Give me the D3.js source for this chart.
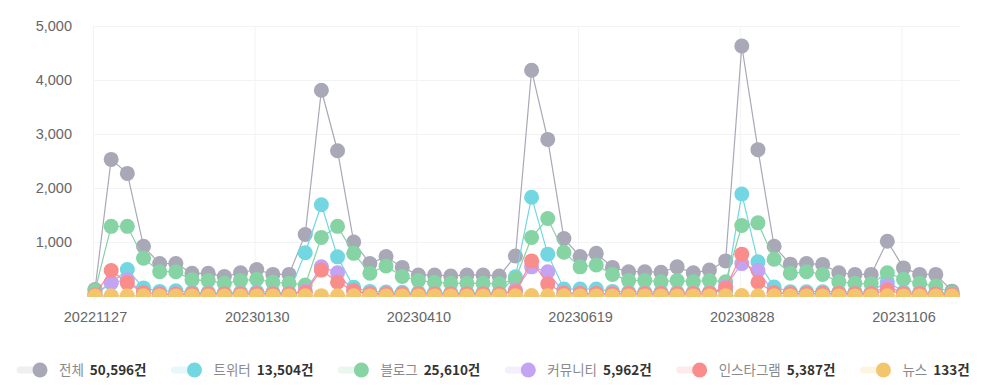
<!DOCTYPE html>
<html>
<head>
<meta charset="utf-8">
<script src="https://cdn.jsdelivr.net/npm/d3@7"></script>
<style>
  body { margin: 0; background: #fff; }
  svg { display: block; }
</style>
</head>
<body>
<div id="chart"></div>
<script>
// weekly dates (first point is a single day)
var dates = ["20221127","20221128","20221205","20221212","20221219","20221226","20230102","20230109","20230116","20230123",
  "20230130","20230206","20230213","20230220","20230227","20230306","20230313","20230320","20230327","20230403",
  "20230410","20230417","20230424","20230501","20230508","20230515","20230522","20230529","20230605","20230612",
  "20230619","20230626","20230703","20230710","20230717","20230724","20230731","20230807","20230814","20230821",
  "20230828","20230904","20230911","20230918","20230925","20231002","20231009","20231016","20231023","20231030",
  "20231106","20231113","20231120","20231127"]
var tickDates = ["20221127","20230130","20230410","20230619","20230828","20231106"]
var yTicks = [0, 1000, 2000, 3000, 4000, 5000]

var total = [120, 2530, 2270, 920, 600, 600, 420, 420, 360, 430,
  490, 400, 400, 1140, 3810, 2690, 1000, 600, 730, 530,
  390, 390, 370, 390, 390, 370, 740, 4180, 2900, 1065,
  730, 790, 530, 450, 450, 440, 540, 430, 480, 650,
  4630, 2710, 920, 590, 600, 585, 430, 400, 400, 1015,
  520, 400, 400, 90]
var twitter = [40, 240, 490, 150, 85, 95, 70, 65, 60, 70,
  80, 70, 65, 800, 1690, 725, 160, 85, 75, 70,
  65, 65, 60, 65, 65, 65, 355, 1830, 775, 130,
  130, 130, 85, 75, 75, 75, 70, 75, 75, 90,
  1890, 635, 165, 80, 80, 80, 75, 75, 75, 270,
  75, 70, 70, 50]
var blog = [100, 1290, 1290, 700, 450, 450, 300, 285, 235, 285,
  310, 255, 235, 205, 1085, 1290, 790, 420, 555, 360,
  285, 255, 235, 235, 235, 225, 310, 1085, 1435, 810,
  540, 575, 400, 285, 285, 265, 285, 265, 285, 265,
  1305, 1355, 680, 420, 450, 400, 265, 235, 225, 430,
  310, 235, 185, 50]
var community = [20, 250, 300, 60, 40, 40, 40, 40, 35, 40,
  45, 40, 40, 90, 540, 430, 80, 40, 40, 40,
  35, 35, 35, 35, 35, 35, 110, 540, 450, 60,
  40, 40, 40, 40, 40, 40, 40, 40, 45, 180,
  600, 470, 60, 40, 40, 40, 40, 40, 40, 190,
  40, 40, 35, 30]
var instagram = [20, 470, 240, 60, 35, 35, 35, 35, 35, 35,
  40, 35, 35, 70, 480, 255, 100, 40, 40, 35,
  35, 35, 35, 35, 35, 35, 80, 650, 225, 50,
  45, 45, 40, 40, 40, 40, 40, 40, 45, 150,
  775, 255, 60, 45, 45, 45, 45, 40, 40, 110,
  40, 40, 35, 30]
var news = [0, 5, 4, 3, 2, 2, 2, 2, 2, 2,
  2, 2, 2, 3, 6, 5, 3, 2, 2, 2,
  2, 2, 2, 2, 2, 2, 3, 7, 5, 3,
  2, 2, 2, 2, 2, 2, 2, 2, 2, 3,
  8, 5, 3, 2, 2, 2, 2, 2, 2, 4,
  2, 2, 2, 1]

var seriesNames = ["전체", "트위터", "블로그", "커뮤니티", "인스타그램", "뉴스"]
var seriesTotals = ["50,596건", "13,504건", "25,610건", "5,962건", "5,387건", "133건"]
var seriesValues = [total, twitter, blog, community, instagram, news]
var colors = ["#a9a8b6", "#72d7e1", "#86d3a4", "#c3a3f2", "#f98d8b", "#f3c56c"]

var width = 983, height = 389
var plot = {left: 95, right: 952, top: 26, bottom: 296, gridRight: 960}

var svg = d3.select("#chart").append("svg")
  .attr("width", width)
  .attr("height", height)

var x = d3.scalePoint()
  .domain(dates)
  .range([plot.left, plot.right])

var y = d3.scaleLinear()
  .domain([0, 5000])
  .range([plot.bottom, plot.top])

// grid
svg.append("g").selectAll("line")
  .data(yTicks)
  .enter().append("line")
  .attr("x1", plot.left - 2).attr("x2", plot.gridRight)
  .attr("y1", function(d) { return y(d) + 0.5 }).attr("y2", function(d) { return y(d) + 0.5 })
  .attr("stroke", "#f3f3f5")

svg.append("g").selectAll("line")
  .data(tickDates)
  .enter().append("line")
  .attr("x1", function(d) { return x(d) - 1.5 }).attr("x2", function(d) { return x(d) - 1.5 })
  .attr("y1", plot.top).attr("y2", plot.bottom)
  .attr("stroke", "#f3f3f5")

// axes (no label at 0)
var yAxis = d3.axisLeft(y).tickValues(yTicks.slice(1)).tickSize(0).tickPadding(0).tickFormat(d3.format(","))
var gy = svg.append("g")
  .attr("transform", "translate(72,0)")
  .call(yAxis)
gy.select(".domain").remove()
gy.selectAll("text")
  .attr("font-family", "'Liberation Sans', Arial, sans-serif")
  .attr("font-size", 14.5)
  .attr("fill", "#666")

var xAxis = d3.axisBottom(x).tickValues(tickDates).tickSize(0).tickPadding(0)
var gx = svg.append("g")
  .attr("transform", "translate(0,312)")
  .call(xAxis)
gx.select(".domain").remove()
gx.selectAll("text")
  .attr("font-family", "'Liberation Sans', Arial, sans-serif")
  .attr("font-size", 14.5)
  .attr("fill", "#666")

// series
svg.append("clipPath").attr("id", "clip")
  .append("rect").attr("x", 0).attr("y", 0).attr("width", width).attr("height", plot.bottom + 1)

var line = d3.line()
  .x(function(d, i) { return x(dates[i]) })
  .y(function(d) { return y(d) })

var plotG = svg.append("g").attr("clip-path", "url(#clip)")

seriesValues.forEach(function(vals, k) {
  var g = plotG.append("g")
  g.append("path")
    .datum(vals)
    .attr("d", line)
    .attr("fill", "none")
    .attr("stroke", colors[k])
    .attr("stroke-width", 1.2)
  g.selectAll("circle")
    .data(vals)
    .enter().append("circle")
    .attr("cx", function(d, i) { return x(dates[i]) })
    .attr("cy", function(d) { return y(d) })
    .attr("r", 7.5)
    .attr("fill", colors[k])
})

// legend
var legend = svg.append("g").attr("transform", "translate(0,370)")
var cx = 40
seriesNames.forEach(function(name, k) {
  var item = legend.append("g")
  item.append("line")
    .attr("x1", cx - 20).attr("x2", cx)
    .attr("y1", 0).attr("y2", 0)
    .attr("stroke", colors[k])
    .attr("stroke-opacity", 0.18)
    .attr("stroke-width", 7)
    .attr("stroke-linecap", "round")
  item.append("circle")
    .attr("cx", cx).attr("cy", 0).attr("r", 7.5)
    .attr("fill", colors[k])
  var label = item.append("text")
    .attr("x", cx + 19).attr("y", 0).attr("dy", "0.36em")
    .attr("font-family", "'Noto Sans CJK KR', sans-serif")
    .attr("font-size", 13.5)
    .attr("fill", "#8a8a8a")
    .text(name)
  var lw = label.node().getComputedTextLength()
  var cnt = item.append("text")
    .attr("x", cx + 19 + lw + 6).attr("y", 0).attr("dy", "0.36em")
    .attr("font-family", "'Noto Sans CJK KR', sans-serif")
    .attr("font-size", 13.5)
    .attr("font-weight", "bold")
    .attr("fill", "#333")
    .text(seriesTotals[k])
  var cw = cnt.node().getComputedTextLength()
  cx = cx + 19 + lw + 6 + cw + 48
})
</script>
</body>
</html>
